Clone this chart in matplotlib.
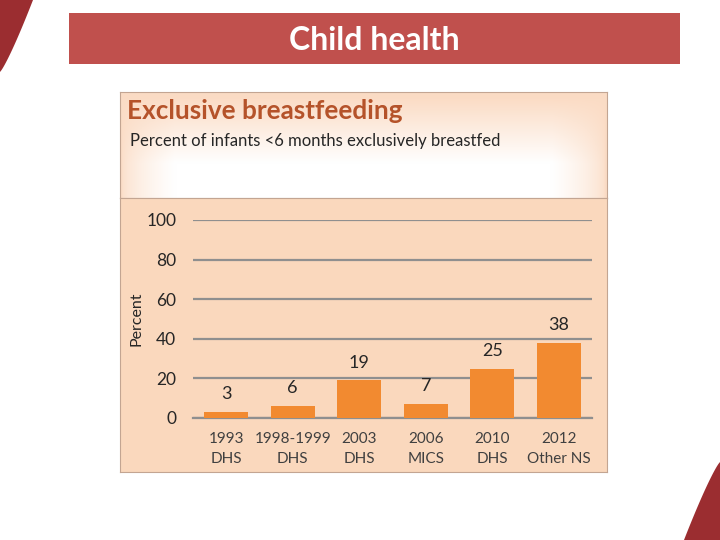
import matplotlib
matplotlib.use('Agg')
import matplotlib.pyplot as plt
import numpy as np
from matplotlib.patches import Rectangle, Polygon

plt.rcParams['font.family'] = ['Lato', 'DejaVu Sans']

# data
surveys = ['1993\nDHS', '1998-1999\nDHS', '2003\nDHS', '2006\nMICS', '2010\nDHS', '2012\nOther NS']
values = [3, 6, 19, 7, 25, 38]
yticks = [0, 20, 40, 60, 80, 100]

page_title = 'Child health'
chart_title = 'Exclusive breastfeeding'
chart_subtitle = 'Percent of infants <6 months exclusively breastfed'

W, H = 720, 540
fig = plt.figure(figsize=(7.2, 5.4), dpi=100)
fig.patch.set_facecolor('white')

def box(x0, y0, x1, y1):
    # pixel coords (top-left origin) -> figure fraction
    return [x0 / W, 1 - y1 / H, (x1 - x0) / W, (y1 - y0) / H]

# decorative corner shapes
t = np.linspace(0, 1, 40)
tl = [(0, 1)] + [(33 * (1 - s) ** 0.85 / W, 1 - 72 * s / H) for s in t]
fig.patches.append(Polygon(tl, closed=True, transform=fig.transFigure,
                           facecolor='#9b2d30', edgecolor='none'))
br = [(1, 0)] + [((720 - 36 * (1 - s) ** 0.85) / W, (78 * s) / H) for s in t]
fig.patches.append(Polygon(br, closed=True, transform=fig.transFigure,
                           facecolor='#9b2d30', edgecolor='none'))

# banner
fig.patches.append(Rectangle((69 / W, 1 - 64 / H), (680 - 69) / W, 51 / H,
                             transform=fig.transFigure, facecolor='#c0504d',
                             edgecolor='none'))
fig.text(374 / W, 1 - 40 / H, page_title, color='white', fontsize=23,
         fontweight='bold', ha='center', va='center')

# chart panel header with gradient
hax = fig.add_axes(box(120, 92, 607, 198))
peach = np.array([0.984, 0.862, 0.772])
ny, nx = 60, 200
yy, xx = np.mgrid[0:1:ny * 1j, 0:1:nx * 1j]
w = np.clip((yy - 0.05) * 1.6, 0, 1) * np.clip(np.minimum(xx, 1 - xx) * 9, 0, 1) ** 0.6
img = peach[None, None, :] * (1 - w[..., None]) + w[..., None]
hax.imshow(img, aspect='auto', extent=[0, 1, 0, 1], origin='upper')
hax.set_xlim(0, 1)
hax.set_ylim(0, 1)
hax.set_xticks([])
hax.set_yticks([])
for sp in hax.spines.values():
    sp.set_color('#c3a592')
    sp.set_linewidth(0.8)
hax.text(7 / 487, 1 - 19 / 106, chart_title, color='#b5532a', fontsize=18.8,
         fontweight='bold', ha='left', va='center', transform=hax.transAxes)
hax.text(10 / 487, 1 - 49 / 106, chart_subtitle, color='#262626', fontsize=12,
         ha='left', va='center', transform=hax.transAxes)

# chart panel body
bax = fig.add_axes(box(120, 198, 607, 472))
bax.set_facecolor('#fad8bd')
bax.set_xticks([])
bax.set_yticks([])
for sp in bax.spines.values():
    sp.set_color('#c3a592')
    sp.set_linewidth(0.8)

# bar chart
ax = fig.add_axes(box(193, 220, 592, 418))
ax.patch.set_alpha(0)
x = np.arange(len(values))
ax.bar(x, values, width=0.66, color='#f28a30', zorder=3)
ax.set_xlim(-0.5, len(values) - 0.5)
ax.set_ylim(0, 100)
ax.set_yticks(yticks)
ax.set_yticklabels([str(v) for v in yticks], fontsize=12.5, color='#262626')
ax.yaxis.grid(True, color='#8f8f8f', linewidth=1.6, zorder=1)
ax.set_axisbelow(True)
ax.tick_params(axis='y', length=0, pad=12)
ax.tick_params(axis='x', length=0, pad=10)
ax.set_xticks(x)
ax.set_xticklabels(surveys, fontsize=11, color='#404040', linespacing=1.6)
for sp in ['top', 'right', 'left']:
    ax.spines[sp].set_visible(False)
ax.spines['bottom'].set_color('#8f8f8f')
ax.spines['bottom'].set_linewidth(1.6)
ax.set_ylabel('Percent', fontsize=11.5, color='#262626', labelpad=2)

for xi, v in zip(x, values):
    ax.annotate(str(v), (xi, v), xytext=(0, 7), textcoords='offset points',
                ha='center', va='bottom', fontsize=13, color='#262626')

fig.savefig('out.png', dpi=100)
